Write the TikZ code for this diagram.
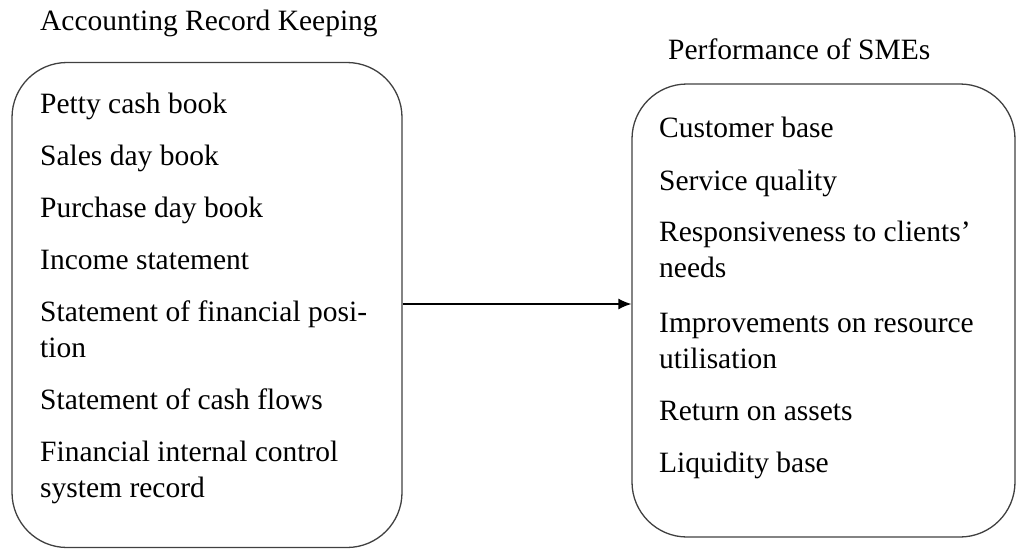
\documentclass[tikz,border=0pt]{standalone}
\usepackage{fontspec}
\setmainfont{Liberation Serif}
\usetikzlibrary{arrows.meta}
\begin{document}
\begin{tikzpicture}[x=1pt,y=-1pt,
  txt/.style={anchor=base west,inner sep=0pt,font=\fontsize{29.5}{36}\selectfont},
  boxshape/.style={draw=black!75,line width=1.3pt,rounded corners=55pt,inner sep=0pt},
  conn/.style={draw=black,line width=1.3pt,-{Latex[length=13pt,width=11pt]}}]
\useasboundingbox (0,0) rectangle (1017,549);
% boxes
\node[boxshape,minimum width=390pt,minimum height=485pt] (L) at (207,305) {};
\node[boxshape,minimum width=383pt,minimum height=453pt] (R) at (823.5,310.5) {};
% titles
\node[txt] (t1) at (40,30) {Accounting Record Keeping};
\node[txt] (t2) at (668,59) {Performance of SMEs};
% left items
\node[txt] (l1) at (40,113) {Petty cash book};
\node[txt] (l2) at (40,165) {Sales day book};
\node[txt] (l3) at (40,217) {Purchase day book};
\node[txt] (l4) at (40,269) {Income statement};
\node[txt] (l5) at (40,321) {Statement of financial posi-};
\node[txt] (l5b) at (40,357) {tion};
\node[txt] (l6) at (40,409) {Statement of cash flows};
\node[txt] (l7) at (40,461) {Financial internal control};
\node[txt] (l7b) at (40,497) {system record};
% right items
\node[txt] (r1) at (659,137) {Customer base};
\node[txt] (r2) at (659,190) {Service quality};
\node[txt] (r3) at (659,241) {Responsiveness to clients’};
\node[txt] (r3b) at (659,277) {needs};
\node[txt] (r4) at (659,332) {Improvements on resource};
\node[txt] (r4b) at (659,368) {utilisation};
\node[txt] (r5) at (659,420) {Return on assets};
\node[txt] (r6) at (659,472) {Liquidity base};
% connector
\draw[conn] (L.east |- 0,304) -- (R.west |- 0,304);
\end{tikzpicture}
\end{document}
